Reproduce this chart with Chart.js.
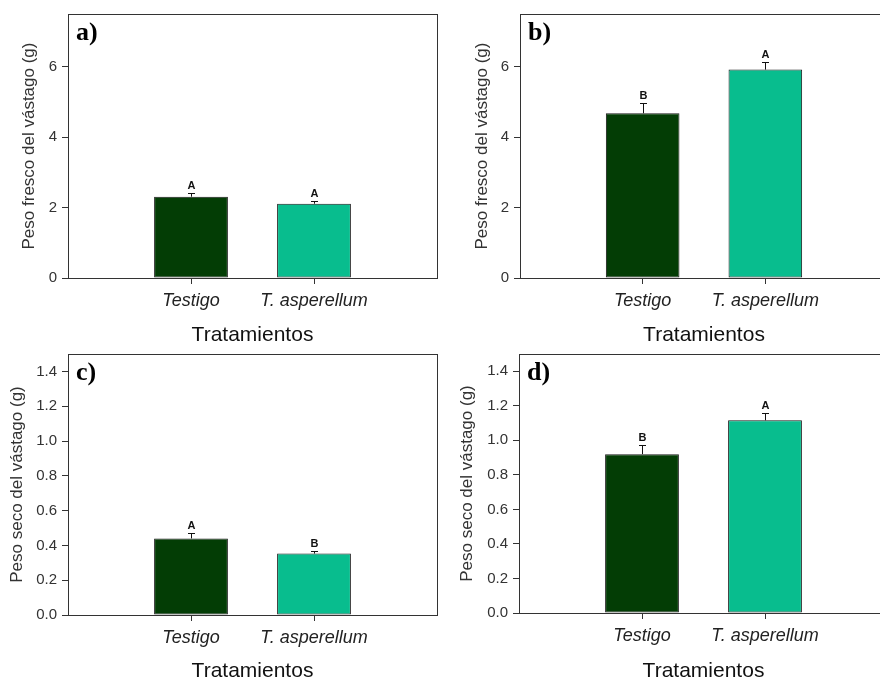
<!DOCTYPE html>
<html>
<head>
<meta charset="utf-8">
<script src="https://cdn.jsdelivr.net/npm/chart.js@4.4.1/dist/chart.umd.min.js"></script>
<style>
    html, body { margin: 0; padding: 0; background: #fff; width: 880px; height: 680px; overflow: hidden; }
    .panel { position: absolute; }
</style>
</head>
<body>
<div class="panel" style="left:0px;top:0px"><canvas id="chartA" width="440" height="346"></canvas></div>
<div class="panel" style="left:440px;top:0px"><canvas id="chartB" width="460" height="346"></canvas></div>
<div class="panel" style="left:0px;top:340px"><canvas id="chartC" width="440" height="342"></canvas></div>
<div class="panel" style="left:440px;top:340px"><canvas id="chartD" width="460" height="342"></canvas></div>
<script>
// --- Datos ---
const tratamientos = ['Testigo', 'T. asperellum'];

const pesoFrescoA = [2.31, 2.11];
const errorFrescoA = [0.11, 0.08];
const letrasA = ['A', 'A'];

const pesoFrescoB = [4.68, 5.92];
const errorFrescoB = [0.30, 0.21];
const letrasB = ['B', 'A'];

const pesoSecoC = [0.44, 0.353];
const errorSecoC = [0.03, 0.017];
const letrasC = ['A', 'B'];

const pesoSecoD = [0.92, 1.116];
const errorSecoD = [0.053, 0.041];
const letrasD = ['B', 'A'];

const ticksFresco = [0, 2, 4, 6];
const ticksSeco = [0, 0.2, 0.4, 0.6, 0.8, 1.0, 1.2, 1.4];

const coloresBarras = ['#033d05', '#08bd8e'];
const FUENTE = '"Liberation Sans", Arial, sans-serif';

// Plugin: marco, barras de error, letras de significancia y etiqueta del panel
const decoracionPlugin = {
    id: 'decoracion',
    afterDatasetsDraw(chart, args, opts) {
        const { ctx, chartArea } = chart;
        const xs = chart.scales.x;
        const ys = chart.scales.y;
        const valores = chart.data.datasets[0].data;
        ctx.save();

        // marco del área de trazado
        ctx.strokeStyle = '#333';
        ctx.lineWidth = 1;
        ctx.strokeRect(Math.round(chartArea.left) + 0.5, Math.round(chartArea.top) + 0.5,
            Math.round(chartArea.right - chartArea.left), Math.round(chartArea.bottom - chartArea.top));

        // barras de error (solo hacia arriba) y letras
        ctx.strokeStyle = '#111';
        ctx.fillStyle = '#111';
        ctx.font = 'bold 11px ' + FUENTE;
        ctx.textAlign = 'center';
        ctx.textBaseline = 'alphabetic';
        valores.forEach((p, i) => {
            const px = Math.round(xs.getPixelForValue(p.x)) + 0.5;
            const base = ys.getPixelForValue(p.y);
            const tope = Math.round(ys.getPixelForValue(p.y + opts.errores[i])) + 0.5;
            ctx.beginPath();
            ctx.moveTo(px, base);
            ctx.lineTo(px, tope);
            ctx.moveTo(px - 3.5, tope);
            ctx.lineTo(px + 3.5, tope);
            ctx.stroke();
            ctx.fillText(opts.letras[i], px, tope - 5);
        });

        // etiqueta del panel
        ctx.fillStyle = '#000';
        ctx.textAlign = 'left';
        ctx.font = 'bold 26px "Liberation Serif", "Times New Roman", serif';
        ctx.fillText(opts.etiqueta, chartArea.left + 8, chartArea.top + 26);
        ctx.restore();
    }
};

function crearPanel(canvasId, valores, errores, letras, etiqueta, tituloY, yMax, ticksY, decimales, area) {
    const canvas = document.getElementById(canvasId);
    const W = canvas.width;
    const H = canvas.height;

    new Chart(canvas, {
        type: 'bar',
        data: {
            datasets: [{
                data: valores.map((v, i) => ({ x: i + 1, y: v })),
                backgroundColor: coloresBarras,
                borderColor: '#1a1a1a',
                borderWidth: 1,
                borderSkipped: false,
                barPercentage: 0.6,
                categoryPercentage: 1.0
            }]
        },
        options: {
            responsive: false,
            animation: false,
            layout: {
                autoPadding: false,
                padding: { left: 0, top: area.top, right: W - area.right, bottom: 0 }
            },
            plugins: {
                legend: { display: false },
                tooltip: { enabled: false },
                decoracion: { errores: errores, letras: letras, etiqueta: etiqueta }
            },
            scales: {
                x: {
                    type: 'linear',
                    min: 0,
                    max: 3,
                    offset: false,
                    afterBuildTicks: s => { s.ticks = tratamientos.map((t, i) => ({ value: i + 1 })); },
                    afterFit: s => { s.height = H - area.bottom; },
                    border: { display: false },
                    grid: { offset: false, drawOnChartArea: false, drawTicks: true, tickLength: 6, color: '#333' },
                    ticks: {
                        padding: 6,
                        color: '#222',
                        font: { family: FUENTE, size: 18, style: 'italic' },
                        maxRotation: 0,
                        callback: v => tratamientos[v - 1] || ''
                    },
                    title: {
                        display: true,
                        text: 'Tratamientos',
                        color: '#111',
                        font: { family: FUENTE, size: 21, lineHeight: 1 },
                        padding: { top: 0, bottom: area.tituloX }
                    }
                },
                y: {
                    min: 0,
                    max: yMax,
                    afterBuildTicks: s => { s.ticks = ticksY.map(v => ({ value: v })); },
                    afterFit: s => { s.width = area.left; },
                    border: { display: false },
                    grid: { drawOnChartArea: false, drawTicks: true, tickLength: 6, color: '#333' },
                    ticks: {
                        padding: 5,
                        color: '#333',
                        font: { family: FUENTE, size: 15 },
                        callback: v => v.toFixed(decimales)
                    },
                    title: {
                        display: true,
                        text: tituloY,
                        color: '#333',
                        font: { family: FUENTE, size: 17, lineHeight: 1 },
                        padding: { top: area.tituloY, bottom: 0 }
                    }
                }
            }
        },
        plugins: [decoracionPlugin]
    });
}

document.addEventListener('DOMContentLoaded', function() {
    crearPanel('chartA', pesoFrescoA, errorFrescoA, letrasA, 'a)', 'Peso fresco del vástago (g)', 7.5, ticksFresco, 0,
        { left: 68, top: 12, right: 437, bottom: 278, tituloY: 21, tituloX: 0 });
    crearPanel('chartB', pesoFrescoB, errorFrescoB, letrasB, 'b)', 'Peso fresco del vástago (g)', 7.5, ticksFresco, 0,
        { left: 80, top: 12, right: 448, bottom: 278, tituloY: 34, tituloX: 0 });
    crearPanel('chartC', pesoSecoC, errorSecoC, letrasC, 'c)', 'Peso seco del vástago (g)', 1.5, ticksSeco, 1,
        { left: 68, top: 9, right: 437, bottom: 275, tituloY: 9, tituloX: 0 });
    crearPanel('chartD', pesoSecoD, errorSecoD, letrasD, 'd)', 'Peso seco del vástago (g)', 1.5, ticksSeco, 1,
        { left: 79, top: 8, right: 448, bottom: 273, tituloY: 19, tituloX: 0 });
});
</script>
</body>
</html>
